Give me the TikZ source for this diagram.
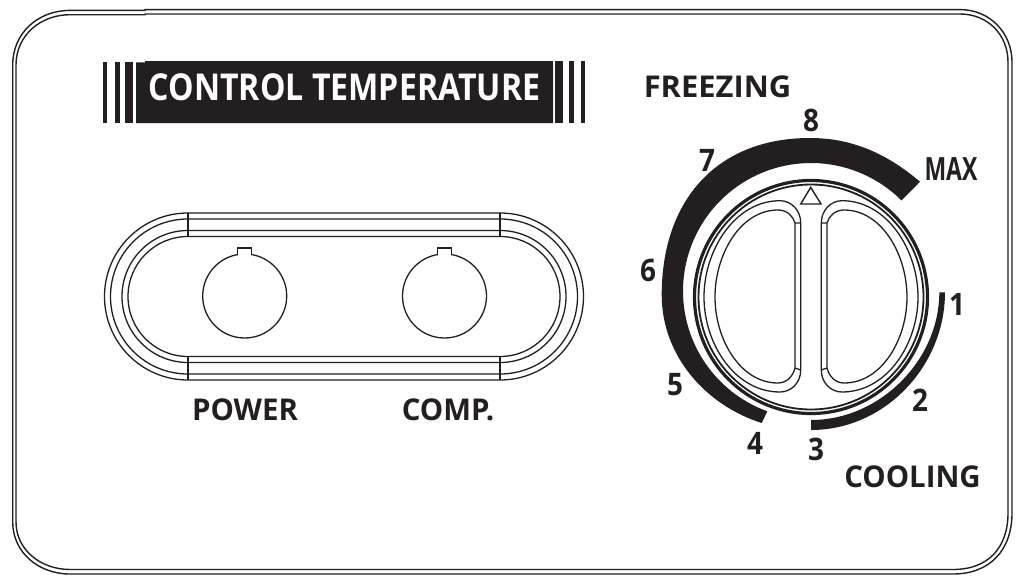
\documentclass[tikz,border=0pt]{standalone}
\usepackage{fontspec}
\setmainfont{Open Sans}
\definecolor{ink}{HTML}{231F20}
\tikzset{
  frameline/.style={line width=1.4pt,draw=ink},
  ovalline/.style={line width=1.3pt,draw=ink},
  thinline/.style={line width=1.3pt,draw=ink},
  darkfill/.style={fill=ink,draw=none},
  lbl/.style={font=\fontsize{30}{30}\selectfont\bfseries,text=ink,inner sep=0pt,xscale=0.98},
  num/.style={font=\fontsize{31}{31}\selectfont\bfseries,text=ink,inner sep=0pt,xscale=0.9}
}
\begin{document}
\begin{tikzpicture}[x=1pt,y=-1pt]
\useasboundingbox[fill=white] (0,0) rectangle (1023,584);
% outer frame
\draw[frameline] (145,9.6) -- (960,9.6) .. controls (990,9.6) and (1012,33) .. (1012,62) -- (1012,513) .. controls (1012,550) and (990,574) .. (953,574) -- (70,574) .. controls (38,574) and (12.7,552) .. (12.7,522) -- (12.7,65) .. controls (12.7,33) and (38,10.4) .. (70,10.4) -- (145,10.4) -- cycle;
\draw[frameline] (145,14) -- (960,14) .. controls (988,14) and (1008,35) .. (1008,62) -- (1008,513) .. controls (1008,548) and (988,569.5) .. (953,569.5) -- (70,569.5) .. controls (41,569.5) and (16,550) .. (16,522) -- (16,65) .. controls (16,35) and (41,14.7) .. (70,14.7) -- (145,14.7) -- cycle;
% banner
\fill[darkfill] (136,62.3) -- (145,62.3) -- (145,61) -- (553,61) -- (553,123) -- (136,123) -- cycle;
\foreach \a/\b in {103.3/107.3,115/120,125/133.3}
  \fill[darkfill] (\a,62.3) rectangle (\b,123);
\foreach \a/\b in {555/562.7,569/574,581/585}
  \fill[darkfill] (\a,61) rectangle (\b,123);
\node[name=title,inner sep=0pt,text=white,font=\fontsize{37}{37}\selectfont\bfseries,xscale=0.868] at (344.5,87.5) {CONTROL TEMPERATURE};
% oval
\foreach \r in {83.5,77.5,66,60}{
  \draw[ovalline] (188,296.5-\r) -- (500,296.5-\r)
    .. controls ({500+0.5523*\r},296.5-\r) and (500+\r,{296.5-0.5523*\r}) .. (500+\r,296.5)
    .. controls (500+\r,{296.5+0.5523*\r}) and ({500+0.5523*\r},296.5+\r) .. (500,296.5+\r)
    -- (188,296.5+\r)
    .. controls ({188-0.5523*\r},296.5+\r) and (188-\r,{296.5+0.5523*\r}) .. (188-\r,296.5)
    .. controls (188-\r,{296.5-0.5523*\r}) and ({188-0.5523*\r},296.5-\r) .. (188,296.5-\r);
}
\draw[ovalline] (188,213) -- (188,236) (188,357) -- (188,380) (500,213) -- (500,236) (500,357) -- (500,380);
% knobs
\foreach \c/\n in {244.7/knobA,444.5/knobB}{
  \draw[ovalline] (\c-7,255) -- (\c-7,248) -- (\c+7,248) -- (\c+7,255);
  \draw[ovalline,fill=white] (\c,296) circle[radius=42];
  \fill[white] (\c-6.3,248.7) rectangle (\c+6.3,256.5);
}
\node[lbl] (power) at (245,410) {POWER};
\node[lbl] (comp) at (448,410) {COMP.};
% dial scale
\fill[darkfill] (920,181.7) .. controls (885,152) and (850,138) .. (810,138) .. controls (717,138) and (661.7,200) .. (661.7,295) .. controls (661.7,355) and (705,405) .. (761.7,423) -- (766.7,412.7)
  -- plot[domain=110:315,samples=80] ({811+128*cos(\x)},{291+128*sin(\x)}) -- cycle;
\fill[darkfill] (939.3,292.3) .. controls (939.3,360) and (880,420) .. (811,420) -- (811,430) .. controls (885,430) and (945,366) .. (945,292.3) -- cycle;
% dial ring
\draw[line width=3.2pt,draw=ink] (811,297) circle[radius=116.5];
\draw[line width=1.8pt,draw=ink] (811,297) circle[radius=112.5];
% grips
\foreach \s in {1,-1}{
  \begin{scope}[shift={(811,0)},xscale=\s]
  \draw[thinline] (-10.3,223) .. controls (-10.3,210) and (-20,200.7) .. (-31,200.7) .. controls (-76,200.7) and (-107,250) .. (-107,297) .. controls (-107,344) and (-76,392) .. (-31,392) .. controls (-20,392) and (-10.3,383) .. (-10.3,370) -- cycle;
  \draw[thinline] (-16,223) .. controls (-18,216) and (-24,210) .. (-33,210) .. controls (-71,210) and (-96,255) .. (-96,297) .. controls (-96,339) and (-71,383) .. (-33,383) .. controls (-24,383) and (-18,376) .. (-16,368) -- cycle;
  \draw[thinline] (-10.3,223) -- (-16,223) (-10.3,370) -- (-16,368);
  \end{scope}
}
\draw[line width=1.4pt,draw=ink,line join=miter] (810.7,187.3) -- (821,204) -- (800.7,204) -- cycle;
% labels
\node[lbl,xscale=1.05] (freezing) at (717.5,87) {FREEZING};
\node[lbl] (cooling) at (912.5,477) {COOLING};
\node[num] (n8) at (811,120) {8};
\node[num] (n7) at (707,160) {7};
\node[num] (n6) at (648,270) {6};
\node[num] (n5) at (675,385) {5};
\node[num] (n4) at (755,443) {4};
\node[num] (n3) at (816,449) {3};
\node[num] (n2) at (920,400) {2};
\node[num] (n1) at (957,304) {1};
\node[inner sep=0pt,text=ink,font=\fontsize{32}{32}\selectfont\bfseries,xscale=0.72] (maxl) at (951,169) {MAX};
\end{tikzpicture}
\end{document}
